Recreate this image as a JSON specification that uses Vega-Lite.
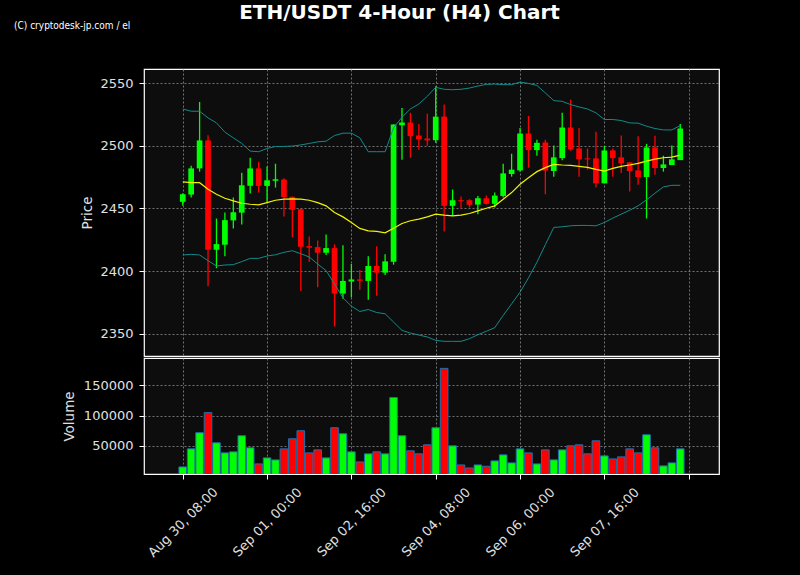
{
  "$schema": "https://vega.github.io/schema/vega-lite/v6.json",
  "background": "black",
  "padding": {"left": 13, "top": 2, "right": 84, "bottom": 25},
  "spacing": 0,
  "title": {"text": "ETH/USDT 4-Hour (H4) Chart", "color": "white", "fontSize": 20, "fontWeight": "bold", "font": "DejaVu Sans", "anchor": "middle", "frame": "bounds", "offset": -2.5, "dx": 33},
  "config": {
    "view": {"stroke": "white", "strokeWidth": 1.2, "fill": "#0d0d0d"},
    "axis": {"labelColor": "#e0e0e0", "titleColor": "#e0e0e0", "labelFont": "DejaVu Sans", "titleFont": "DejaVu Sans", "labelFontSize": 13, "titleFontSize": 13.5, "titleFontWeight": "normal", "tickColor": "white", "tickSize": 5, "domain": false, "gridColor": "#8c8c8c", "gridDash": [2, 2], "gridWidth": 0.8}
  },
  "data": {"values": [
    {"t": "2024-08-30T08:00", "o": 2455.2, "h": 2462, "l": 2452, "c": 2461.3, "v": 15000, "m": 2471.1, "u": 2529.3, "lo": 2412.8},
    {"t": "2024-08-30T12:00", "o": 2461, "h": 2484, "l": 2458.6, "c": 2481.9, "v": 45000, "m": 2470.5, "u": 2527.5, "lo": 2413.3},
    {"t": "2024-08-30T16:00", "o": 2481.9, "h": 2534.9, "l": 2479.3, "c": 2504.2, "v": 71700, "m": 2470.5, "u": 2527.5, "lo": 2412.8},
    {"t": "2024-08-30T20:00", "o": 2504.2, "h": 2508.4, "l": 2387.9, "c": 2417, "v": 105000, "m": 2465.2, "u": 2522.2, "lo": 2408.3},
    {"t": "2024-08-31T00:00", "o": 2417, "h": 2441.9, "l": 2402.2, "c": 2421.5, "v": 55000, "m": 2461.3, "u": 2518.2, "lo": 2404},
    {"t": "2024-08-31T04:00", "o": 2421, "h": 2446.7, "l": 2411.7, "c": 2440.6, "v": 38300, "m": 2458.1, "u": 2510.8, "lo": 2404.8},
    {"t": "2024-08-31T08:00", "o": 2440.4, "h": 2458.6, "l": 2434, "c": 2446.9, "v": 40000, "m": 2456, "u": 2506.3, "lo": 2405.1},
    {"t": "2024-08-31T12:00", "o": 2446.6, "h": 2478.5, "l": 2437.2, "c": 2468.4, "v": 66700, "m": 2454.1, "u": 2501.8, "lo": 2407.5},
    {"t": "2024-08-31T16:00", "o": 2468, "h": 2490.4, "l": 2461.8, "c": 2481.9, "v": 46700, "m": 2453.3, "u": 2495.7, "lo": 2410.1},
    {"t": "2024-08-31T20:00", "o": 2481.9, "h": 2487.2, "l": 2462.6, "c": 2467.9, "v": 20000, "m": 2452.8, "u": 2495.2, "lo": 2410.1},
    {"t": "2024-09-01T00:00", "o": 2467.9, "h": 2483.5, "l": 2454.9, "c": 2472.4, "v": 30000, "m": 2454.6, "u": 2497.8, "lo": 2412},
    {"t": "2024-09-01T04:00", "o": 2472, "h": 2485.6, "l": 2466.6, "c": 2473.2, "v": 26700, "m": 2456.5, "u": 2499.4, "lo": 2413},
    {"t": "2024-09-01T08:00", "o": 2473, "h": 2474, "l": 2443.5, "c": 2459, "v": 45000, "m": 2457.3, "u": 2499.4, "lo": 2414.9},
    {"t": "2024-09-01T12:00", "o": 2459.2, "h": 2459.6, "l": 2426.8, "c": 2448.8, "v": 61700, "m": 2457.5, "u": 2499.7, "lo": 2416.2},
    {"t": "2024-09-01T16:00", "o": 2449.3, "h": 2449.6, "l": 2384, "c": 2419.4, "v": 75000, "m": 2457.3, "u": 2500.6, "lo": 2413.8},
    {"t": "2024-09-01T20:00", "o": 2419.9, "h": 2427.6, "l": 2407.2, "c": 2418.6, "v": 38300, "m": 2456.5, "u": 2501.8, "lo": 2411.2},
    {"t": "2024-09-02T00:00", "o": 2419.1, "h": 2424.4, "l": 2387.1, "c": 2414.6, "v": 43300, "m": 2454.6, "u": 2503.1, "lo": 2405.6},
    {"t": "2024-09-02T04:00", "o": 2414.6, "h": 2429.2, "l": 2412.8, "c": 2418.3, "v": 30000, "m": 2452, "u": 2503.6, "lo": 2400.3},
    {"t": "2024-09-02T08:00", "o": 2418.3, "h": 2421.3, "l": 2355.8, "c": 2382, "v": 80000, "m": 2446.7, "u": 2508.1, "lo": 2389.7},
    {"t": "2024-09-02T12:00", "o": 2382, "h": 2420.5, "l": 2377.8, "c": 2392.1, "v": 70000, "m": 2443.2, "u": 2510, "lo": 2378.6},
    {"t": "2024-09-02T16:00", "o": 2391.6, "h": 2405.6, "l": 2379, "c": 2393.3, "v": 40000, "m": 2438.7, "u": 2510, "lo": 2372},
    {"t": "2024-09-02T20:00", "o": 2393.3, "h": 2400.9, "l": 2385, "c": 2392.2, "v": 23300, "m": 2434, "u": 2506.3, "lo": 2367.7},
    {"t": "2024-09-03T00:00", "o": 2392.1, "h": 2411.7, "l": 2377, "c": 2404, "v": 36700, "m": 2432.1, "u": 2495.2, "lo": 2369.3},
    {"t": "2024-09-03T04:00", "o": 2404, "h": 2419.7, "l": 2380.2, "c": 2398.7, "v": 40000, "m": 2431.6, "u": 2495.2, "lo": 2366.9},
    {"t": "2024-09-03T08:00", "o": 2398.7, "h": 2413.3, "l": 2396.9, "c": 2407.7, "v": 36700, "m": 2430.5, "u": 2495.2, "lo": 2365.9},
    {"t": "2024-09-03T12:00", "o": 2407.5, "h": 2517, "l": 2405.1, "c": 2516.9, "v": 130000, "m": 2434.2, "u": 2514.2, "lo": 2359.3},
    {"t": "2024-09-03T16:00", "o": 2516.4, "h": 2530.1, "l": 2488.8, "c": 2518.5, "v": 66700, "m": 2437.9, "u": 2522.7, "lo": 2352.6},
    {"t": "2024-09-03T20:00", "o": 2518.5, "h": 2526.2, "l": 2490.4, "c": 2507.6, "v": 41700, "m": 2440.1, "u": 2529.3, "lo": 2350.5},
    {"t": "2024-09-04T00:00", "o": 2508.1, "h": 2517.4, "l": 2496.8, "c": 2505.2, "v": 36700, "m": 2441.4, "u": 2533.3, "lo": 2348.9},
    {"t": "2024-09-04T04:00", "o": 2505.7, "h": 2525.4, "l": 2499.7, "c": 2504.2, "v": 51700, "m": 2443.2, "u": 2539.4, "lo": 2347.4},
    {"t": "2024-09-04T08:00", "o": 2504.4, "h": 2547.4, "l": 2502.3, "c": 2523.2, "v": 80000, "m": 2445.4, "u": 2546.6, "lo": 2344.7},
    {"t": "2024-09-04T12:00", "o": 2523.2, "h": 2532.8, "l": 2431.6, "c": 2452, "v": 178300, "m": 2444.6, "u": 2545, "lo": 2343.9},
    {"t": "2024-09-04T16:00", "o": 2452, "h": 2465, "l": 2444, "c": 2456.5, "v": 50000, "m": 2444, "u": 2544.7, "lo": 2343.9},
    {"t": "2024-09-04T20:00", "o": 2456.5, "h": 2459.4, "l": 2449.9, "c": 2455.7, "v": 18300, "m": 2444.6, "u": 2545, "lo": 2343.9},
    {"t": "2024-09-05T00:00", "o": 2456.5, "h": 2457.3, "l": 2450.7, "c": 2452.8, "v": 13300, "m": 2445.9, "u": 2546, "lo": 2346},
    {"t": "2024-09-05T04:00", "o": 2453, "h": 2459.9, "l": 2445.4, "c": 2458.1, "v": 18300, "m": 2448, "u": 2547.6, "lo": 2349.2},
    {"t": "2024-09-05T08:00", "o": 2458.1, "h": 2460.2, "l": 2453, "c": 2453.6, "v": 16100, "m": 2450.1, "u": 2548.9, "lo": 2351.9},
    {"t": "2024-09-05T12:00", "o": 2453.6, "h": 2462.6, "l": 2450.7, "c": 2460.2, "v": 25000, "m": 2452, "u": 2549.2, "lo": 2354.8},
    {"t": "2024-09-05T16:00", "o": 2459.9, "h": 2485.6, "l": 2458.6, "c": 2477.9, "v": 35000, "m": 2457.3, "u": 2548.7, "lo": 2364.6},
    {"t": "2024-09-05T20:00", "o": 2477.4, "h": 2493.6, "l": 2475.3, "c": 2480.9, "v": 21700, "m": 2462.6, "u": 2548.7, "lo": 2373.8},
    {"t": "2024-09-06T00:00", "o": 2480.3, "h": 2514.2, "l": 2479.3, "c": 2509.7, "v": 45000, "m": 2469.2, "u": 2550.8, "lo": 2383.1},
    {"t": "2024-09-06T04:00", "o": 2509.7, "h": 2523.8, "l": 2482.5, "c": 2496.5, "v": 38300, "m": 2474.5, "u": 2549.7, "lo": 2394.5},
    {"t": "2024-09-06T08:00", "o": 2496.5, "h": 2504.7, "l": 2492, "c": 2502.3, "v": 20000, "m": 2479.3, "u": 2548.1, "lo": 2407},
    {"t": "2024-09-06T12:00", "o": 2502.6, "h": 2504.7, "l": 2461.3, "c": 2480.1, "v": 43300, "m": 2482.5, "u": 2542.1, "lo": 2421},
    {"t": "2024-09-06T16:00", "o": 2479.8, "h": 2500.2, "l": 2475.3, "c": 2490.7, "v": 26700, "m": 2485.1, "u": 2536, "lo": 2434.8},
    {"t": "2024-09-06T20:00", "o": 2490.1, "h": 2526.2, "l": 2488.3, "c": 2514.5, "v": 43300, "m": 2484.6, "u": 2535.4, "lo": 2435.3},
    {"t": "2024-09-07T00:00", "o": 2514.5, "h": 2536.8, "l": 2496, "c": 2497, "v": 50000, "m": 2484.3, "u": 2532.8, "lo": 2436.1},
    {"t": "2024-09-07T04:00", "o": 2497.8, "h": 2514.2, "l": 2475.3, "c": 2489.1, "v": 51700, "m": 2483.5, "u": 2530.9, "lo": 2436.4},
    {"t": "2024-09-07T08:00", "o": 2489.9, "h": 2497.8, "l": 2480.9, "c": 2489.1, "v": 36700, "m": 2482.7, "u": 2529.3, "lo": 2436.4},
    {"t": "2024-09-07T12:00", "o": 2489.9, "h": 2511.1, "l": 2466.6, "c": 2470, "v": 58300, "m": 2481.1, "u": 2526.2, "lo": 2436.1},
    {"t": "2024-09-07T16:00", "o": 2470, "h": 2499.7, "l": 2470, "c": 2496.2, "v": 33300, "m": 2479.8, "u": 2520.9, "lo": 2438.7},
    {"t": "2024-09-07T20:00", "o": 2496.2, "h": 2497.8, "l": 2475.3, "c": 2490.1, "v": 28300, "m": 2481.9, "u": 2520.9, "lo": 2442.2},
    {"t": "2024-09-08T00:00", "o": 2490.7, "h": 2508.1, "l": 2478.2, "c": 2485.9, "v": 31700, "m": 2483.5, "u": 2520.1, "lo": 2445.4},
    {"t": "2024-09-08T04:00", "o": 2486.7, "h": 2486.7, "l": 2463.4, "c": 2479.8, "v": 45000, "m": 2484.6, "u": 2518.2, "lo": 2448.5},
    {"t": "2024-09-08T08:00", "o": 2480.3, "h": 2507.6, "l": 2468.9, "c": 2475, "v": 38300, "m": 2485.9, "u": 2518, "lo": 2452},
    {"t": "2024-09-08T12:00", "o": 2475, "h": 2501.5, "l": 2441.9, "c": 2498.6, "v": 68300, "m": 2487.7, "u": 2515.6, "lo": 2456.8},
    {"t": "2024-09-08T16:00", "o": 2498.6, "h": 2507.9, "l": 2476.9, "c": 2482.2, "v": 46700, "m": 2489.3, "u": 2513.7, "lo": 2462.1},
    {"t": "2024-09-08T20:00", "o": 2482.2, "h": 2492, "l": 2479.3, "c": 2485.1, "v": 16700, "m": 2490.4, "u": 2512.6, "lo": 2467.1},
    {"t": "2024-09-09T00:00", "o": 2484.6, "h": 2500.2, "l": 2484.6, "c": 2489.1, "v": 21700, "m": 2490.9, "u": 2512.6, "lo": 2468.4},
    {"t": "2024-09-09T04:00", "o": 2488.5, "h": 2517.4, "l": 2488.5, "c": 2513.7, "v": 45000, "m": 2492.5, "u": 2516.1, "lo": 2468.4}
  ]},
  "vconcat": [
    {
      "width": 575,
      "height": 287,
      "title": {"text": "(C) cryptodesk-jp.com / el", "anchor": "start", "frame": "group", "dx": -130, "offset": 28, "baseline": "bottom", "fontSize": 10, "font": "Liberation Sans Narrow, DejaVu Sans Condensed", "fontWeight": "normal", "color": "white"},
      "encoding": {
        "x": {"field": "t", "type": "temporal",
          "scale": {"domain": [{"year": 2024, "month": "aug", "date": 29, "hours": 16}, {"year": 2024, "month": "sep", "date": 9, "hours": 20}]},
          "axis": {"values": [
            {"year": 2024, "month": "aug", "date": 30, "hours": 8},
            {"year": 2024, "month": "sep", "date": 1, "hours": 0},
            {"year": 2024, "month": "sep", "date": 2, "hours": 16},
            {"year": 2024, "month": "sep", "date": 4, "hours": 8},
            {"year": 2024, "month": "sep", "date": 6, "hours": 0},
            {"year": 2024, "month": "sep", "date": 7, "hours": 16},
            {"year": 2024, "month": "sep", "date": 9, "hours": 8}
          ], "labels": false, "ticks": false, "title": null, "grid": true}
        }
      },
      "layer": [
        {"mark": {"type": "rule", "strokeWidth": 1.3},
          "encoding": {
            "y": {"field": "l", "type": "quantitative", "title": "Price", "scale": {"domain": [2332.2, 2561.2], "nice": false, "zero": false},
              "axis": {"values": [2350, 2400, 2450, 2500, 2550], "format": "d", "titlePadding": 5, "labelPadding": 6, "grid": true}},
            "y2": {"field": "h"},
            "color": {"condition": {"test": "datum.c >= datum.o", "value": "#00ff00"}, "value": "#ff0000"}
          }},
        {"mark": {"type": "bar", "size": 5.7},
          "encoding": {
            "y": {"field": "o", "type": "quantitative", "title": "Price"},
            "y2": {"field": "c"},
            "fill": {"condition": {"test": "datum.c >= datum.o", "value": "#00ff00"}, "value": "#ff0000"}
          }},
        {"mark": {"type": "line", "color": "#138a8a", "strokeWidth": 1},
          "encoding": {"y": {"field": "u", "type": "quantitative", "title": "Price"}}},
        {"mark": {"type": "line", "color": "#138a8a", "strokeWidth": 1},
          "encoding": {"y": {"field": "lo", "type": "quantitative", "title": "Price"}}},
        {"mark": {"type": "line", "color": "#f2f200", "strokeWidth": 1.2},
          "encoding": {"y": {"field": "m", "type": "quantitative", "title": "Price"}}}
      ]
    },
    {
      "width": 575,
      "height": 116,
      "mark": {"type": "bar", "size": 7.6, "stroke": "#1f6fae", "strokeWidth": 1, "clip": true},
      "encoding": {
        "x": {"field": "t", "type": "temporal",
          "scale": {"domain": [{"year": 2024, "month": "aug", "date": 29, "hours": 16}, {"year": 2024, "month": "sep", "date": 9, "hours": 20}]},
          "axis": {"values": [
            {"year": 2024, "month": "aug", "date": 30, "hours": 8},
            {"year": 2024, "month": "sep", "date": 1, "hours": 0},
            {"year": 2024, "month": "sep", "date": 2, "hours": 16},
            {"year": 2024, "month": "sep", "date": 4, "hours": 8},
            {"year": 2024, "month": "sep", "date": 6, "hours": 0},
            {"year": 2024, "month": "sep", "date": 7, "hours": 16},
            {"year": 2024, "month": "sep", "date": 9, "hours": 8}
          ], "format": "%b %d, %H:%M", "labelExpr": "datum.value < datetime(2024, 8, 9, 0) ? datum.label : ''", "labelAngle": -45, "labelAlign": "center", "labelBaseline": "middle", "labelPadding": 43, "labelOverlap": false, "labelFlush": false, "labelBound": false, "title": null, "grid": true}
        },
        "y": {"field": "v", "type": "quantitative", "scale": {"domain": [3300, 195500], "nice": false, "zero": false},
          "axis": {"values": [50000, 100000, 150000], "format": "d", "title": "Volume", "titlePadding": 7, "labelPadding": 6, "grid": true}},
        "fill": {"condition": {"test": "datum.c >= datum.o", "value": "#00ff00"}, "value": "#ff0000"}
      }
    }
  ]
}
